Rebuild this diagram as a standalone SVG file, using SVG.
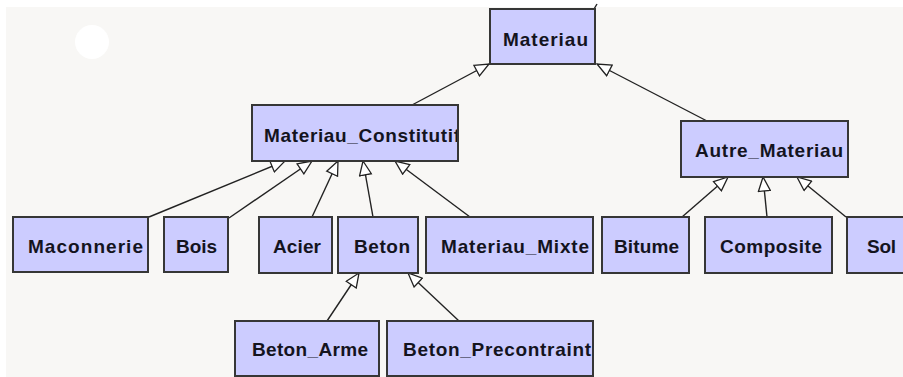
<svg xmlns="http://www.w3.org/2000/svg" width="903" height="377" viewBox="0 0 903 377">
<style>
.box{fill:#ccccff;stroke:#363636;stroke-width:2}
.lbl{font-family:"Liberation Sans",Arial,sans-serif;font-weight:bold;font-size:19px;fill:#14141e}
.edge{stroke:#222;stroke-width:1.4;fill:none;marker-end:url(#gen)}
</style>
<defs>
<marker id="gen" markerUnits="userSpaceOnUse" markerWidth="16" markerHeight="14" viewBox="0 0 16 14" refX="15" refY="7" orient="auto">
<path d="M1,1 L15,7 L1,13 Z" fill="#ffffff" stroke="#222" stroke-width="1.3"/>
</marker>
<clipPath id="clipMC"><rect x="253" y="106" width="204" height="54"/></clipPath>
</defs>
<rect x="0" y="0" width="903" height="377" fill="#ffffff"/>
<rect x="6" y="7" width="897" height="370" fill="#f8f7f5"/>
<circle cx="92" cy="42" r="17" fill="#ffffff"/>
<g id="connectors">
<line x1="594" y1="9" x2="597" y2="4" stroke="#222" stroke-width="1.4"/>
<line class="edge" x1="412" y1="105" x2="489" y2="64"/>
<line class="edge" x1="707" y1="121" x2="597" y2="64"/>
<line class="edge" x1="149" y1="217" x2="285" y2="161"/>
<line class="edge" x1="229" y1="218" x2="312" y2="161"/>
<line class="edge" x1="312" y1="217" x2="338" y2="161"/>
<line class="edge" x1="373" y1="217" x2="363" y2="161"/>
<line class="edge" x1="470" y1="217" x2="395" y2="161"/>
<line class="edge" x1="682" y1="217" x2="728" y2="177"/>
<line class="edge" x1="767" y1="217" x2="763" y2="177"/>
<line class="edge" x1="846" y1="217" x2="797" y2="177"/>
<line class="edge" x1="327" y1="321" x2="359" y2="273"/>
<line class="edge" x1="459" y1="321" x2="408" y2="273"/>
</g>
<g id="Materiau"><rect class="box" x="490" y="9" width="105" height="55"/><text class="lbl" x="503" y="46" textLength="85" lengthAdjust="spacing">Materiau</text></g>
<g id="Materiau_Constitutif"><rect class="box" x="252" y="105" width="206" height="56"/><g clip-path="url(#clipMC)"><text class="lbl" x="264" y="142" textLength="196" lengthAdjust="spacing">Materiau_Constitutif</text></g></g>
<g id="Autre_Materiau"><rect class="box" x="681" y="121" width="167" height="56"/><text class="lbl" x="695" y="157" textLength="148" lengthAdjust="spacing">Autre_Materiau</text></g>
<g id="Maconnerie"><rect class="box" x="13" y="217" width="135" height="55"/><text class="lbl" x="28" y="253" textLength="115" lengthAdjust="spacing">Maconnerie</text></g>
<g id="Bois"><rect class="box" x="164" y="217" width="64" height="55"/><text class="lbl" x="176" y="253" textLength="41" lengthAdjust="spacing">Bois</text></g>
<g id="Acier"><rect class="box" x="259" y="217" width="73" height="56"/><text class="lbl" x="273" y="253" textLength="48" lengthAdjust="spacing">Acier</text></g>
<g id="Beton"><rect class="box" x="338" y="217" width="80" height="56"/><text class="lbl" x="354" y="253" textLength="56" lengthAdjust="spacing">Beton</text></g>
<g id="Materiau_Mixte"><rect class="box" x="426" y="217" width="167" height="56"/><text class="lbl" x="441" y="253" textLength="148" lengthAdjust="spacing">Materiau_Mixte</text></g>
<g id="Bitume"><rect class="box" x="602" y="217" width="87" height="56"/><text class="lbl" x="614" y="253" textLength="65" lengthAdjust="spacing">Bitume</text></g>
<g id="Composite"><rect class="box" x="705" y="217" width="127" height="56"/><text class="lbl" x="720" y="253" textLength="102" lengthAdjust="spacing">Composite</text></g>
<g id="Sol"><rect class="box" x="847" y="217" width="70" height="56"/><text class="lbl" x="867" y="253" textLength="29" lengthAdjust="spacing">Sol</text></g>
<g id="Beton_Arme"><rect class="box" x="235" y="321" width="144" height="55"/><text class="lbl" x="252" y="356" textLength="116" lengthAdjust="spacing">Beton_Arme</text></g>
<g id="Beton_Precontraint"><rect class="box" x="387" y="321" width="206" height="55"/><text class="lbl" x="403" y="356" textLength="188" lengthAdjust="spacing">Beton_Precontraint</text></g>
</svg>
